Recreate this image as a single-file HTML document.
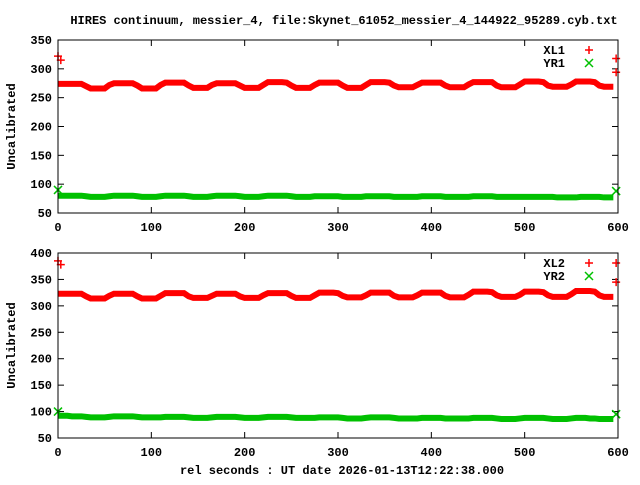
<!DOCTYPE html>
<html><head><meta charset="utf-8"><style>
body{margin:0;background:#fff}
svg text{font-family:"Liberation Mono",monospace;font-size:12px;font-weight:bold;fill:#000}
</style></head><body>
<svg id="chart" width="640" height="480" xmlns="http://www.w3.org/2000/svg">
<text x="344" y="24" text-anchor="middle">HIRES continuum, messier_4, file:Skynet_61052_messier_4_144922_95289.cyb.txt</text>
<text x="342" y="474" text-anchor="middle">rel seconds : UT date 2026-01-13T12:22:38.000</text>
<g id="p1"></g>
<g id="p2"></g>
</svg>
<script>
const times=[0,5,10,15,20,25,30,35,40,45,50,55,60,65,70,75,80,85,90,95,100,105,110,115,120,125,130,135,140,145,150,155,160,165,170,175,180,185,190,195,200,205,210,215,220,225,230,235,240,245,250,255,260,265,270,275,280,285,290,295,300,305,310,315,320,325,330,335,340,345,350,355,360,365,370,375,380,385,390,395,400,405,410,415,420,425,430,435,440,445,450,455,460,465,470,475,480,485,490,495,500,505,510,515,520,525,530,535,540,545,550,555,560,565,570,575,580,585,590,595];
const xl1=[274,274,274,274,274,274,270,266,266,266,266,272,275,275,275,275,275,271,266,266,266,266,272,276,276,276,276,276,271,267,267,267,267,272,275,275,275,275,275,271,267,267,267,267,272,277,277,277,277,276,271,267,267,267,267,272,276,276,276,276,276,271,267,267,267,267,272,277,277,277,277,276,271,268,268,268,268,272,276,276,276,276,276,271,268,268,268,268,273,277,277,277,277,277,271,268,268,268,268,273,278,278,278,278,277,271,269,269,269,269,273,278,278,278,278,277,271,269,269,269];
const yr1=[80,80,80,80,80,80,79,78,78,78,78,79,80,80,80,80,80,79,78,78,78,78,79,80,80,80,80,80,79,78,78,78,78,79,80,80,80,80,80,79,78,78,78,78,79,80,80,80,80,80,79,78,78,78,78,79,79,79,79,79,79,78,78,78,78,78,79,79,79,79,79,79,78,78,78,78,78,78,79,79,79,79,79,78,78,78,78,78,78,79,79,79,79,79,78,78,78,78,78,78,78,78,78,78,78,78,78,77,77,77,77,77,78,78,78,78,78,77,77,77];
const xl2=[323,323,323,323,323,323,318,314,314,314,314,319,323,323,323,323,323,318,314,314,314,314,319,324,324,324,324,324,318,315,315,315,315,319,323,323,323,323,323,318,315,315,315,315,320,324,324,324,324,324,319,315,315,315,315,320,325,325,325,325,324,319,316,316,316,316,320,325,325,325,325,325,319,316,316,316,316,320,325,325,325,325,325,319,316,316,316,316,321,327,327,327,327,326,320,317,317,317,317,321,327,327,327,327,326,320,317,317,317,317,322,328,328,328,328,327,320,317,317,317];
const yr2=[92,92,92,91,91,91,90,89,89,89,89,90,91,91,91,91,91,90,89,89,89,89,89,90,90,90,90,90,89,88,88,88,88,89,90,90,90,90,90,89,88,88,88,88,89,90,90,90,90,90,89,88,88,88,88,88,89,89,89,89,89,88,87,87,87,87,88,89,89,89,89,89,88,87,87,87,87,87,88,88,88,88,88,87,87,87,87,87,87,88,88,88,88,88,87,86,86,86,86,87,88,88,88,88,88,87,86,86,86,86,87,88,88,88,87,87,86,86,86,86];
const out1T=[0,3,598,598], out1V=[322,315,318,294];
const out1gT=[0,598], out1gV=[90,88];
const out2T=[0,3,598,598], out2V=[385,378,381,345];
const out2gT=[0,598], out2gV=[100,95];
const xTicks=[0,100,200,300,400,500,600];
const yTicks1=[50,100,150,200,250,300,350];
const yTicks2=[50,100,150,200,250,300,350,400];
const NS="http://www.w3.org/2000/svg";
function mk(tag,attrs,parent){const e=document.createElementNS(NS,tag);for(const k in attrs)e.setAttribute(k,attrs[k]);parent.appendChild(e);return e;}
function panel(g,top,bot,yMax,yTicks,s1,s2,lab1,lab2,oT,oV,gT,gV){
  const L=58,R=618;
  const X=t=>L+(t/600)*(R-L);
  const Y=v=>bot-(v-50)/(yMax-50)*(bot-top);
  yTicks.forEach(v=>{
    const t=mk('line',{x1:L,x2:L+6,y1:Y(v),y2:Y(v),stroke:'#000'},g);
    
    const t2=mk('line',{x1:R-6,x2:R,y1:Y(v),y2:Y(v),stroke:'#000'},g);
    
    const tx=mk('text',{x:L-6,y:Y(v)+4,'text-anchor':'end'},g);tx.textContent=v;
    
  });
  xTicks.forEach(v=>{
    const t=mk('line',{x1:X(v),x2:X(v),y1:bot,y2:bot-6,stroke:'#000'},g);
    
    const t2=mk('line',{x1:X(v),x2:X(v),y1:top,y2:top+6,stroke:'#000'},g);
    
    const tx=mk('text',{x:X(v),y:bot+18,'text-anchor':'middle'},g);tx.textContent=v;
    
  });
  const yl=mk('text',{x:0,y:0,'text-anchor':'middle',transform:`translate(15,${(top+bot)/2}) rotate(-90)`},g);
  yl.textContent='Uncalibrated';
  
  function series(vals,color,name){
    const pts=times.map((t,i)=>X(t)+','+Y(vals[i])).join(' ');
    const p=mk('polyline',{points:pts,fill:'none',stroke:color,'stroke-width':6,'stroke-linejoin':'miter'},g);
    
  }
  series(s1,'#ff0000','series-'+lab1.toLowerCase());
  series(s2,'#00c000','series-'+lab2.toLowerCase());
  function plus(x,y,c){mk('path',{d:`M${x-4},${y}h8M${x},${y-4}v8`,stroke:c,'stroke-width':1.5},g);}
  function cross(x,y,c){mk('path',{d:`M${x-4},${y-4}l8,8M${x-4},${y+4}l8,-8`,stroke:c,'stroke-width':1.5},g);}
  oT.forEach((t,i)=>plus(X(t),Y(oV[i]),'#ff0000'));
  gT.forEach((t,i)=>cross(X(t),Y(gV[i]),'#00c000'));
  const fr=mk('rect',{x:L,y:top,width:R-L,height:bot-top,fill:'none',stroke:'#000'},g);
  
  const l1=mk('text',{x:565,y:top+14,'text-anchor':'end'},g);l1.textContent=lab1;
  
  plus(589,top+10,'#ff0000');
  const l2=mk('text',{x:565,y:top+27,'text-anchor':'end'},g);l2.textContent=lab2;
  
  cross(589,top+23,'#00c000');
}
panel(document.getElementById('p1'),40,213,350,yTicks1,xl1,yr1,'XL1','YR1',out1T,out1V,out1gT,out1gV);
panel(document.getElementById('p2'),253,438,400,yTicks2,xl2,yr2,'XL2','YR2',out2T,out2V,out2gT,out2gV);
</script>
</body></html>
